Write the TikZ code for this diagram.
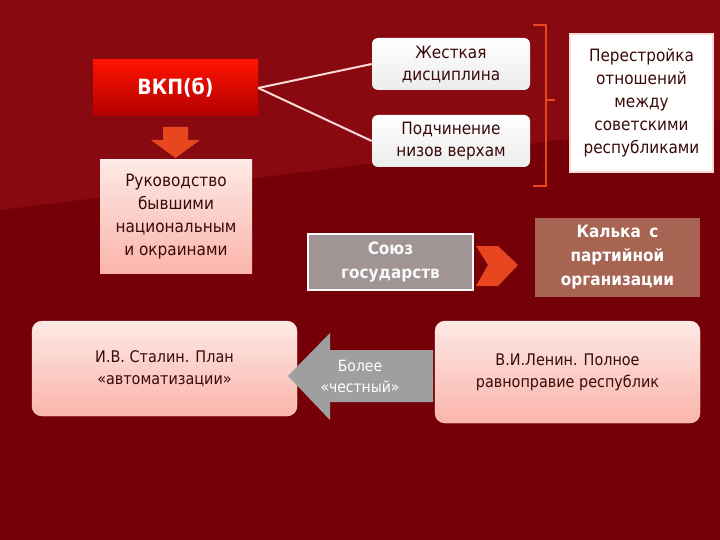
\documentclass[tikz,border=0pt]{standalone}
\usepackage{fontspec}
\setmainfont{DejaVu Sans Condensed}
\definecolor{bg}{HTML}{760008}
\definecolor{bg2}{HTML}{880A10}
\definecolor{pinkbox}{HTML}{FAC8BE}
\definecolor{txt}{HTML}{3A0A0A}
\definecolor{orng}{HTML}{E8461E}
\definecolor{kal}{HTML}{A86452}
\definecolor{soyc}{HTML}{A09494}
\tikzset{
  pinkbox/.style={draw=none, top color=pinkbox!40, bottom color=pinkbox!90!red, text=txt, align=center, font=\fontsize{17}{23}\selectfont, inner sep=0pt},
  whitebox/.style={draw=none, rounded corners=6pt, top color=white, bottom color=gray!15, text=txt, align=center, font=\fontsize{17}{22}\selectfont, inner sep=0pt},
  boldw/.style={text=white, align=center, font=\bfseries\fontsize{17}{24}\selectfont, inner sep=0pt}
}
\begin{document}
\begin{tikzpicture}[x=1pt,y=-1pt]
\useasboundingbox (0,0) rectangle (720,540);
\fill[bg] (0,0) rectangle (720,540);
\fill[bg2] (0,0) -- (720,0) -- (720,120) -- (0,210) -- cycle;
\node[draw=none, top color=red!85!orange, bottom color=red!70!black, minimum width=165pt, minimum height=56pt, text=white, font=\bfseries\fontsize{21}{24}\selectfont] (vkp) at (175.5,88) {ВКП(б)};
\fill[orng] (163,127) -- (188,127) -- (188,140) -- (200,140) -- (175.5,158) -- (151,140) -- (163,140) -- cycle;
\node[pinkbox, minimum width=152pt, minimum height=113pt] (ruk) at (176,216.5) {Руководство\\бывшими\\национальным\\и окраинами};
\node[whitebox, minimum width=158pt, minimum height=52pt] (zh) at (451,64) {Жесткая\\дисциплина};
\node[whitebox, minimum width=158pt, minimum height=52pt] (pod) at (451,141) {Подчинение\\низов верхам};
\draw[pink!60!white, line width=2pt] (vkp.east) -- (zh.west);
\draw[pink!60!white, line width=2pt] (vkp.east) -- (pod.west);
\coordinate (bt) at (533,25); \coordinate (bb) at (533,186); \coordinate (bm) at (555,100);
\draw[orng, line width=2pt] (bt) -- (546,25) -- (546,186) -- (bb);
\draw[orng, line width=2pt] (546,100) -- (bm);
\node[draw=pink!60, line width=1.5pt, fill=white, minimum width=143pt, minimum height=138pt, text=txt, align=center, font=\fontsize{17}{23}\selectfont, inner sep=0pt] (per) at (641.5,103) {Перестройка\\отношений\\между\\советскими\\республиками};
\node[draw=white!90!pink, line width=2pt, fill=soyc, minimum width=165pt, minimum height=56pt, boldw, text=white!95!gray] (soy) at (390.5,262) {Союз\\государств};
\node[draw=none, fill=kal, minimum width=165pt, minimum height=79pt, boldw] (kal) at (617.5,257.5) {Калька\enspace с\\партийной\\организации};
\fill[orng] (476,246) -- (498,246) -- (518,265) -- (498,286) -- (476,286) -- (488,265) -- cycle;
\node[pinkbox, rounded corners=10pt, minimum width=265pt, minimum height=95pt, font=\fontsize{16}{22}\selectfont, draw=pink!50] (sta) at (164.5,368.5) {И.В. Сталин. План\\«автоматизации»};
\node[pinkbox, rounded corners=10pt, minimum width=265pt, minimum height=102pt, font=\fontsize{16}{22}\selectfont, draw=pink!50] (len) at (567.5,372) {В.И.Ленин. Полное\\равноправие республик};
\fill[gray!75] (288,376) -- (330,333) -- (330,350) -- (433,350) -- (433,402) -- (330,402) -- (330,420) -- cycle;
\node[text=white, align=center, font=\fontsize{15.5}{21}\selectfont] (gtx) at (360,376) {Более\\«честный»};
\end{tikzpicture}
\end{document}
